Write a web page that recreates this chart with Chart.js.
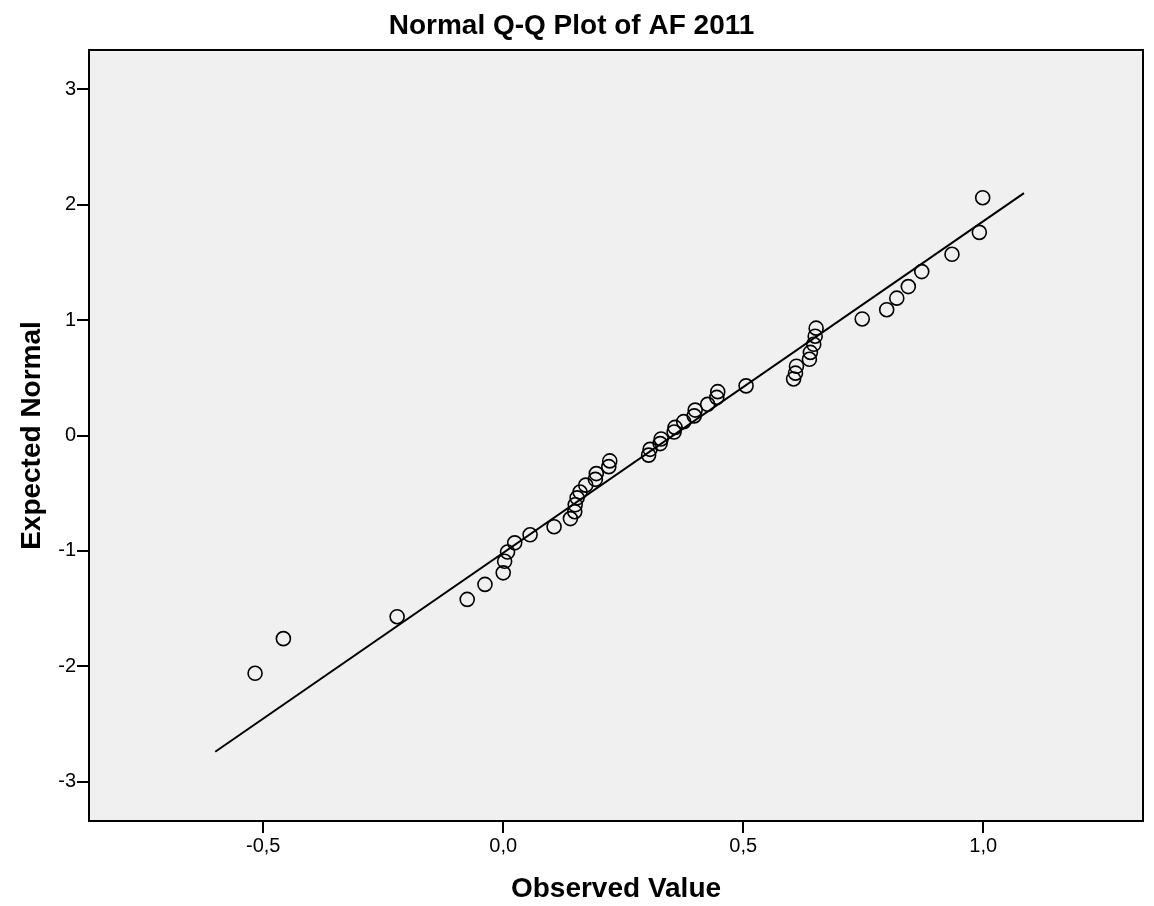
<!DOCTYPE html>
<html>
<head>
<meta charset="utf-8">
<script src="https://cdn.jsdelivr.net/npm/chart.js@4.4.1/dist/chart.umd.min.js"></script>
<style>
  html, body { margin: 0; padding: 0; background: #fff; }
  #wrap { width: 1154px; height: 906px; }
</style>
</head>
<body>
<div id="wrap"><canvas id="qqChart"></canvas></div>
<script>
var observed = [
    -0.517, -0.458, -0.221, -0.075, -0.038, 0.000, 0.003, 0.009, 0.024, 0.056,
    0.106, 0.140, 0.149, 0.150, 0.154, 0.160, 0.172, 0.192, 0.194, 0.220,
    0.222, 0.303, 0.306, 0.327, 0.329, 0.356, 0.358, 0.376, 0.398, 0.400,
    0.426, 0.445, 0.447, 0.506, 0.605, 0.609, 0.611, 0.638, 0.640, 0.647,
    0.650, 0.652, 0.748, 0.799, 0.820, 0.844, 0.872, 0.935, 0.992, 0.999
];
var expected = [
    -2.06, -1.76, -1.57, -1.42, -1.29, -1.19, -1.09, -1.01, -0.93, -0.86,
    -0.79, -0.72, -0.66, -0.60, -0.54, -0.49, -0.43, -0.38, -0.33, -0.27,
    -0.22, -0.17, -0.12, -0.07, -0.03, 0.03, 0.07, 0.12, 0.17, 0.22,
    0.27, 0.33, 0.38, 0.43, 0.49, 0.54, 0.60, 0.66, 0.72, 0.79,
    0.86, 0.93, 1.01, 1.09, 1.19, 1.29, 1.42, 1.57, 1.76, 2.06
];

// Reference line end points
var lineX = [-0.60, 1.085];
var lineY = [-2.74, 2.10];

// Tick values
var xTicks = [-0.5, 0.0, 0.5, 1.0];
var yTicks = [-3, -2, -1, 0, 1, 2, 3];

var fontFamily = "'Liberation Sans', Arial, sans-serif";

var points = observed.map(function (v, i) { return { x: v, y: expected[i] }; });
var linePts = lineX.map(function (v, i) { return { x: v, y: lineY[i] }; });

// grey plot area + full frame
var frame = {
    id: 'frame',
    beforeDraw: function (chart) {
        var a = chart.chartArea, ctx = chart.ctx;
        ctx.save();
        ctx.fillStyle = '#f0f0f0';
        ctx.fillRect(a.left, a.top, a.right - a.left, a.bottom - a.top);
        ctx.restore();
    },
    afterDraw: function (chart) {
        var a = chart.chartArea, ctx = chart.ctx;
        ctx.save();
        ctx.strokeStyle = '#000';
        ctx.lineWidth = 2;
        ctx.strokeRect(a.left, a.top, a.right - a.left, a.bottom - a.top);
        ctx.restore();
    }
};

function commaLabel(v) {
    return Number(v).toFixed(1).replace('.', ',');
}

new Chart(document.getElementById('qqChart').getContext('2d'), {
    type: 'scatter',
    data: {
        datasets: [{
            type: 'line',
            data: linePts,
            borderColor: '#000',
            borderWidth: 2,
            pointRadius: 0,
            fill: false,
            order: 2
        }, {
            data: points,
            pointRadius: 7,
            pointBorderWidth: 1.6,
            pointBorderColor: '#000',
            pointBackgroundColor: 'rgba(0,0,0,0)',
            order: 1
        }]
    },
    options: {
        responsive: true,
        maintainAspectRatio: false,
        animation: false,
        layout: { padding: { right: 11 } },
        plugins: {
            legend: { display: false },
            tooltip: { enabled: false },
            title: {
                display: true,
                text: 'Normal Q-Q Plot of AF 2011',
                color: '#000',
                font: { family: fontFamily, size: 28, weight: 'bold' },
                padding: { top: 9, bottom: 7.4 }
            }
        },
        scales: {
            x: {
                type: 'linear',
                min: -0.863,
                max: 1.333,
                afterBuildTicks: function (scale) {
                    scale.ticks = xTicks.map(function (v) { return { value: v }; });
                },
                afterFit: function (scale) { scale.height = 85; },
                border: { color: '#000', width: 2 },
                grid: { drawOnChartArea: false, color: '#000', lineWidth: 2, tickLength: 12 },
                ticks: {
                    color: '#000',
                    font: { family: fontFamily, size: 20 },
                    padding: 1,
                    maxRotation: 0,
                    callback: function (v) { return commaLabel(v); }
                },
                title: {
                    display: true,
                    text: 'Observed Value',
                    color: '#000',
                    font: { family: fontFamily, size: 28, weight: 'bold' },
                    padding: { top: 0, bottom: 0 }
                }
            },
            y: {
                type: 'linear',
                min: -3.34,
                max: 3.34,
                afterBuildTicks: function (scale) {
                    scale.ticks = yTicks.map(function (v) { return { value: v }; });
                },
                afterFit: function (scale) { scale.width = 89; },
                border: { color: '#000', width: 2 },
                grid: { drawOnChartArea: false, color: '#000', lineWidth: 2, tickLength: 12 },
                ticks: {
                    color: '#000',
                    font: { family: fontFamily, size: 20 },
                    padding: 1
                },
                title: {
                    display: true,
                    text: 'Expected Normal',
                    color: '#000',
                    font: { family: fontFamily, size: 28, weight: 'bold' },
                    padding: { top: 15, bottom: 0 }
                }
            }
        }
    },
    plugins: [frame]
});
</script>
</body>
</html>
